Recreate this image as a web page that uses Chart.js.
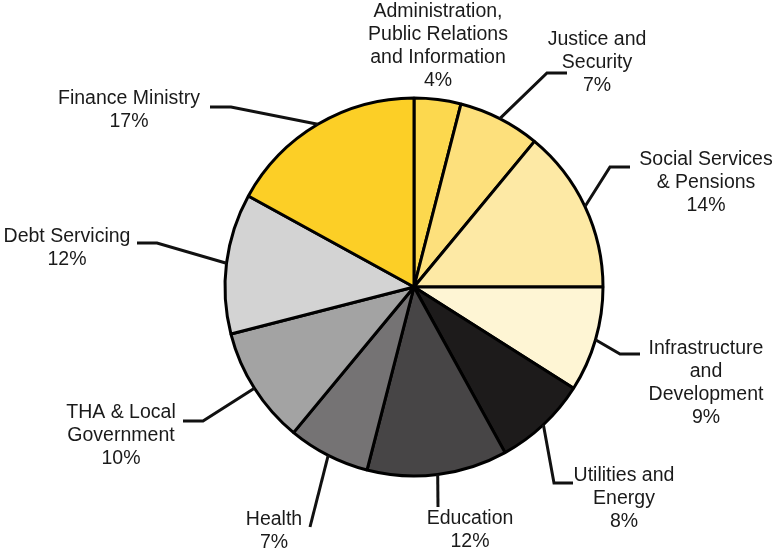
<!DOCTYPE html>
<html>
<head>
<meta charset="utf-8">
<title>Budget allocation</title>
<script src="https://cdn.jsdelivr.net/npm/chart.js@4.4.1/dist/chart.umd.min.js"></script>
<style>
  html, body { margin: 0; padding: 0; background: #fff; }
  #wrap { width: 775px; height: 551px; }
</style>
</head>
<body>
<div id="wrap"><canvas id="budget" width="775" height="551"></canvas></div>
<script>
// ministries, clockwise from 12 o'clock
const categories = [
    ['Administration,', 'Public Relations', 'and Information'],
    ['Justice and', 'Security'],
    ['Social Services', '& Pensions'],
    ['Infrastructure', 'and', 'Development'],
    ['Utilities and', 'Energy'],
    ['Education'],
    ['Health'],
    ['THA & Local', 'Government'],
    ['Debt Servicing'],
    ['Finance Ministry']
];
const shares = [4, 7, 14, 9, 8, 12, 7, 10, 12, 17];
const sliceColors = [
    '#fcd84e', '#fde07c', '#fde9a5', '#fef5d4', '#1d1b1b',
    '#474546', '#757374', '#a3a3a3', '#d3d3d3', '#fccf26'
];

// where each label sits and how its leader line bends
const labelSpots = [
    { x: 438, y: 12, lead: null },
    { x: 597, y: 40, lead: [[547, 73], [567, 73]] },
    { x: 706, y: 160, lead: [[610, 167], [630, 167]] },
    { x: 706, y: 349, lead: [[620, 354], [640, 354]] },
    { x: 624, y: 476, lead: [[554, 483], [573, 483]] },
    { x: 470, y: 519, lead: [[438, 507]] },
    { x: 274, y: 520, lead: [[310, 527]] },
    { x: 121, y: 413, lead: [[203, 421], [183, 421]] },
    { x: 67, y: 237, lead: [[157, 243], [137, 243]] },
    { x: 129, y: 99, lead: [[231, 107], [210, 107]] }
];

const lineGap = 23;

const sliceLabels = {
    id: 'sliceLabels',
    afterDraw(chart) {
        const ctx = chart.ctx;
        const arcs = chart.getDatasetMeta(0).data;
        ctx.save();
        ctx.strokeStyle = '#111';
        ctx.lineWidth = 3;
        ctx.lineJoin = 'miter';
        arcs.forEach((arc, i) => {
            const spot = labelSpots[i];
            const { x, y, startAngle, endAngle, outerRadius } =
                arc.getProps(['x', 'y', 'startAngle', 'endAngle', 'outerRadius'], true);
            if (spot.lead) {
                const mid = (startAngle + endAngle) / 2;
                ctx.beginPath();
                ctx.moveTo(x + Math.cos(mid) * outerRadius, y + Math.sin(mid) * outerRadius);
                spot.lead.forEach(p => ctx.lineTo(p[0], p[1]));
                ctx.stroke();
            }
            const lines = categories[i].concat([shares[i] + '%']);
            ctx.fillStyle = '#1a1a1a';
            ctx.font = '19.5px "Liberation Sans", Arial, sans-serif';
            ctx.textAlign = 'center';
            ctx.textBaseline = 'middle';
            lines.forEach((t, k) => ctx.fillText(t, spot.x, spot.y + k * lineGap));
        });
        ctx.restore();
    }
};

new Chart(document.getElementById('budget'), {
    type: 'pie',
    data: {
        labels: categories.map(c => c.join(' ')),
        datasets: [{
            data: shares,
            backgroundColor: sliceColors,
            borderColor: '#000',
            borderWidth: 3,
            radius: 189,
            hoverOffset: 0
        }]
    },
    options: {
        responsive: false,
        animation: false,
        layout: { padding: { left: 53, right: 0, top: 23, bottom: 0 } },
        plugins: {
            legend: { display: false },
            tooltip: { enabled: false }
        }
    },
    plugins: [sliceLabels]
});
</script>
</body>
</html>
